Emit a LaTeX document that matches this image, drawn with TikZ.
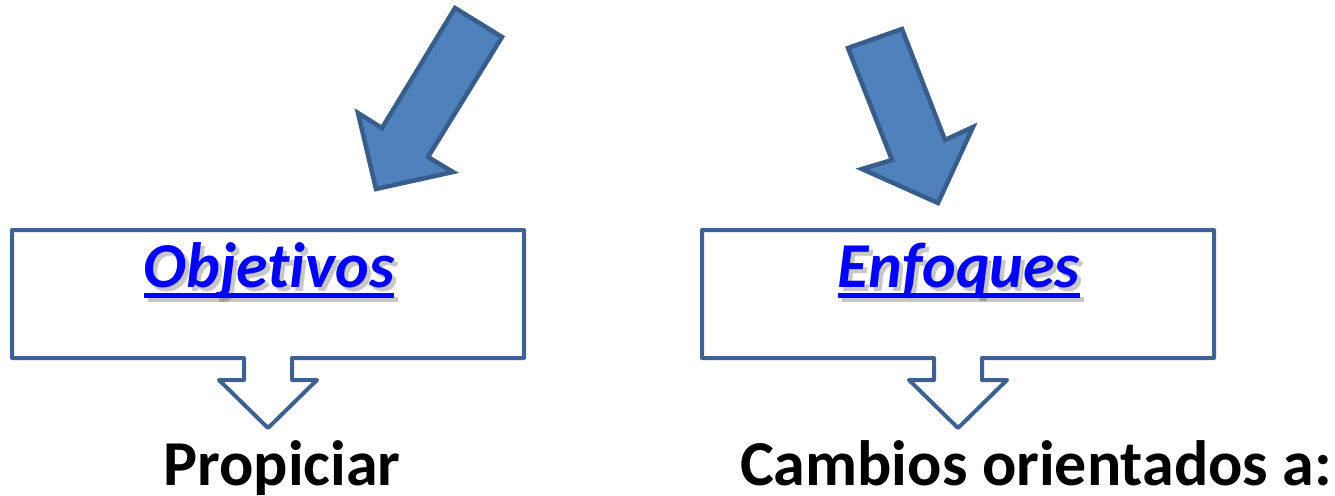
\documentclass[tikz,border=0pt]{standalone}
\usepackage{fontspec}
\setmainfont[Ligatures=NoCommon]{Carlito}
\definecolor{arrfill}{HTML}{4F81BD}
\definecolor{arrline}{HTML}{385D8A}
\definecolor{boxline}{HTML}{3E6290}
\definecolor{linkblue}{HTML}{0000FF}
\begin{document}
\begin{tikzpicture}[x=1pt,y=-1pt,
  bigarrow/.style={fill=arrfill,draw=arrline,line width=4.5pt,line join=miter},
  callout/.style={draw=boxline,line width=4pt,line join=round,fill=white},
  title/.style={font=\fontsize{64}{70}\selectfont\bfseries\itshape,text=linkblue,inner sep=0pt,anchor=base},
  shadowtxt/.style={font=\fontsize{64}{70}\selectfont\bfseries\itshape,text=black,opacity=0.22,inner sep=0pt,anchor=base},
  label/.style={font=\fontsize{64}{70}\selectfont\bfseries,text=black,inner sep=0pt,anchor=base}]
\useasboundingbox (0,0) rectangle (1335,495);
% big arrows
\draw[bigarrow] (455,8) -- (502,37) -- (428,157) -- (453,172) -- (376,189) -- (358,113) -- (382,128) -- cycle;
\draw[bigarrow] (848,48) -- (902,29) -- (945,140) -- (973,127) -- (938,203) -- (862,169) -- (892,160) -- cycle;
% callouts
\draw[callout] (12,230) -- (524,230) -- (524,358) -- (292,358) -- (292,380) -- (317,380) -- (268,428) -- (219,380) -- (244,380) -- (244,358) -- (12,358) -- cycle;
\draw[callout] (702,230) -- (1214,230) -- (1214,358) -- (982,358) -- (982,380) -- (1007,380) -- (958,428) -- (909,380) -- (934,380) -- (934,358) -- (702,358) -- cycle;
% titles with shadow
\node[shadowtxt] (objs) at (273,291) {Objetivos};
\fill[black,opacity=0.22] ([yshift=-6pt]objs.base west) rectangle ([yshift=-11pt]objs.base east);
\node[title] (obj) at (269,287) {Objetivos};
\fill[linkblue] ([yshift=-6pt]obj.base west) rectangle ([yshift=-11pt]obj.base east);
\node[shadowtxt] (enfs) at (963,291) {Enfoques};
\fill[black,opacity=0.22] ([yshift=-6pt]enfs.base west) rectangle ([yshift=-11pt]enfs.base east);
\node[title] (enf) at (959,287) {Enfoques};
\fill[linkblue] ([yshift=-6pt]enf.base west) rectangle ([yshift=-11pt]enf.base east);
% labels
\node[label] (prop) at (282,485) {Propiciar};
\node[label] (camb) at (1036,485) {Cambios orientados a:};
\end{tikzpicture}
\end{document}
